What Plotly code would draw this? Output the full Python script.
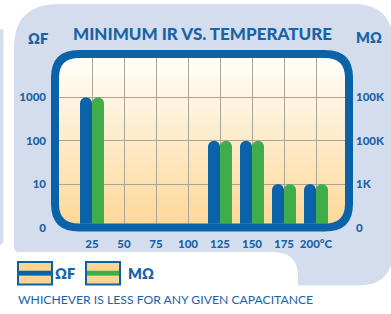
import plotly.graph_objects as go

# ---------------- data ----------------
temps = [25, 50, 75, 100, 125, 150, 175, 200]
temp_labels = ["25", "50", "75", "100", "125", "150", "175", "200°C"]
ohm_f = [1000, None, None, None, 100, 100, 10, 10]            # ΩF
megohm = [100000, None, None, None, 10000, 10000, 1000, 1000]  # MΩ
left_tick_vals = [1, 10, 100, 1000]
left_tick_text = ["0", "10", "100", "1000"]
right_tick_vals = [100, 1000, 10000, 100000]
right_tick_text = ["0", "1K", "100K", "100K"]

# ---------------- style ----------------
W, H = 391, 314
BLUE = "#0a63a8"
GREEN = "#3fae4a"
PANEL = "#d4ddee"
TEXT = "#1863a6"
GRID = "#aba596"
FONT = "Lato"


def X(px):
    return px / W


def Y(py):
    return 1 - py / H


def P(px, py):
    return f"{X(px):.5f},{Y(py):.5f}"


def rrect(x0, y0, x1, y1, r, ccw=False):
    if not ccw:
        return (f"M{P(x0 + r, y0)} L{P(x1 - r, y0)} Q{P(x1, y0)} {P(x1, y0 + r)} "
                f"L{P(x1, y1 - r)} Q{P(x1, y1)} {P(x1 - r, y1)} L{P(x0 + r, y1)} "
                f"Q{P(x0, y1)} {P(x0, y1 - r)} L{P(x0, y0 + r)} Q{P(x0, y0)} {P(x0 + r, y0)} Z")
    return (f"M{P(x0 + r, y0)} Q{P(x0, y0)} {P(x0, y0 + r)} L{P(x0, y1 - r)} "
            f"Q{P(x0, y1)} {P(x0 + r, y1)} L{P(x1 - r, y1)} Q{P(x1, y1)} {P(x1, y1 - r)} "
            f"L{P(x1, y0 + r)} Q{P(x1, y0)} {P(x1 - r, y0)} Z")


# plot area in pixels
PL, PR, PT, PB = 59, 345, 59, 232
px_per_unit = (316 - 92) / 175.0
xr = [25 - (92 - PL) / px_per_unit, 200 + (PR - 316) / px_per_unit]
decade = 44.3
yr_top = (PB - PT) / decade
bw = 12 / px_per_unit

fig = go.Figure()
fig.add_trace(go.Bar(x=temps, y=ohm_f, marker=dict(color=BLUE, cornerradius=6, line_width=0),
                     offset=-bw, width=bw, yaxis="y", showlegend=False, hoverinfo="x+y"))
fig.add_trace(go.Bar(x=temps, y=megohm, marker=dict(color=GREEN, cornerradius=6, line_width=0),
                     offset=0, width=bw, yaxis="y2", showlegend=False, hoverinfo="x+y"))

shapes = []
# light blue panel
panel = (f"M{P(14, 49)} Q{P(14, 4)} {P(59, 4)} L{P(353, 4)} Q{P(393, 4)} {P(393, 44)} "
         f"L{P(393, 256)} Q{P(393, 291)} {P(358, 291)} L{P(298, 291)} L{P(298, 282)} "
         f"Q{P(298, 257)} {P(273, 257)} L{P(20, 257)} Q{P(14, 257)} {P(14, 251)} Z")
shapes.append(dict(type="path", path=panel, xref="paper", yref="paper",
                   fillcolor=PANEL, line_width=0, layer="below"))
# far-left strip of neighbouring panel
shapes.append(dict(type="path", path=f"M{P(-10, 30)} L{P(3.5, 30)} L{P(3.5, 244)} Q{P(3.5, 250)} {P(-2, 250)} L{P(-10, 250)} Z",
                   xref="paper", yref="paper", fillcolor=PANEL, line_width=0, layer="below"))
# gradient background of plot area
n = 58
top_c = (255, 254, 250)
bot_c = (253, 215, 150)
for i in range(n):
    t = (i + 0.5) / n
    c = tuple(int(round(top_c[k] + (bot_c[k] - top_c[k]) * t)) for k in range(3))
    y0 = PT + (PB - PT) * i / n
    y1 = PT + (PB - PT) * (i + 1) / n + 0.6
    shapes.append(dict(type="rect", xref="paper", yref="paper", x0=X(PL), x1=X(PR),
                       y0=Y(y1), y1=Y(y0), fillcolor=f"rgb{c}", line_width=0, layer="below"))
# corner mask (panel colour outside the inner rounded rect)
mask = rrect(48, 48, 356, 240, 0.01) + " " + rrect(59, 59, 345, 228, 20, ccw=True)
shapes.append(dict(type="path", path=mask, xref="paper", yref="paper",
                   fillcolor=PANEL, line_width=0, layer="above"))
# frame
shapes.append(dict(type="path", path=rrect(55, 55, 349, 232, 24), xref="paper", yref="paper",
                   line=dict(color=BLUE, width=8), fillcolor="rgba(0,0,0,0)", layer="above"))
# legend swatches
for x0, band in [(18, BLUE), (86, GREEN)]:
    shapes.append(dict(type="rect", xref="paper", yref="paper", x0=X(x0), x1=X(x0 + 34),
                       y0=Y(290), y1=Y(267), fillcolor="#fdd58f", line=dict(color=BLUE, width=2)))
    shapes.append(dict(type="rect", xref="paper", yref="paper", x0=X(x0 + 1), x1=X(x0 + 33),
                       y0=Y(281), y1=Y(276), fillcolor=band, line_width=0))

annotations = []


def ann(text, px, py, size, weight=800, xanchor="center", color=TEXT):
    annotations.append(dict(text=text, x=X(px), y=Y(py),
                            xref="paper", yref="paper", xanchor=xanchor, yanchor="middle",
                            showarrow=False,
                            font=dict(family=FONT, size=size, color=color, weight=weight)))


ann("MINIMUM IR VS. TEMPERATURE", 202, 34, 17, weight=900)
ann("ΩF", 38, 39, 14.5)
ann("MΩ", 369, 38, 14.5)
ann("ΩF", 53, 279, 14.5, xanchor="left")
ann("MΩ", 126, 279, 14.5, xanchor="left")
ann("WHICHEVER IS LESS FOR ANY GIVEN CAPACITANCE", 16, 305, 12.2, weight=400, xanchor="left")

tickfont = dict(family=FONT, size=11.5, color=TEXT, weight=900)
fig.update_layout(
    width=W, height=H, autosize=False,
    margin=dict(l=0, r=0, t=0, b=0),
    paper_bgcolor="white", plot_bgcolor="rgba(0,0,0,0)",
    barmode="overlay",
    xaxis=dict(domain=[X(PL), X(PR)], range=xr, tickvals=temps, ticktext=temp_labels,
               showgrid=True, gridcolor=GRID, gridwidth=1.3, zeroline=False, showline=False,
               ticks="", tickfont=tickfont, ticklabelstandoff=8, fixedrange=True),
    yaxis=dict(domain=[Y(PB), Y(PT)], type="log", range=[0, yr_top],
               tickvals=left_tick_vals, ticktext=left_tick_text,
               showgrid=True, gridcolor=GRID, gridwidth=1.3, zeroline=False, showline=False,
               ticks="", tickfont=tickfont, ticklabelstandoff=12, fixedrange=True),
    yaxis2=dict(overlaying="y", side="right", type="log", range=[2, 2 + yr_top],
                tickvals=right_tick_vals, ticktext=right_tick_text,
                showgrid=False, zeroline=False, showline=False,
                ticks="", tickfont=tickfont, ticklabelstandoff=10, fixedrange=True),
    shapes=shapes, annotations=annotations,
)

page_css = (
    "var d=document.documentElement,b=document.body;"
    "d.style.margin='0';d.style.padding='0';d.style.overflow='hidden';d.style.height='314px';"
    "b.style.margin='0';b.style.padding='0';b.style.overflow='hidden';b.style.height='314px';"
)
fig.write_html("out.html", config={"displayModeBar": False}, post_script=page_css)
